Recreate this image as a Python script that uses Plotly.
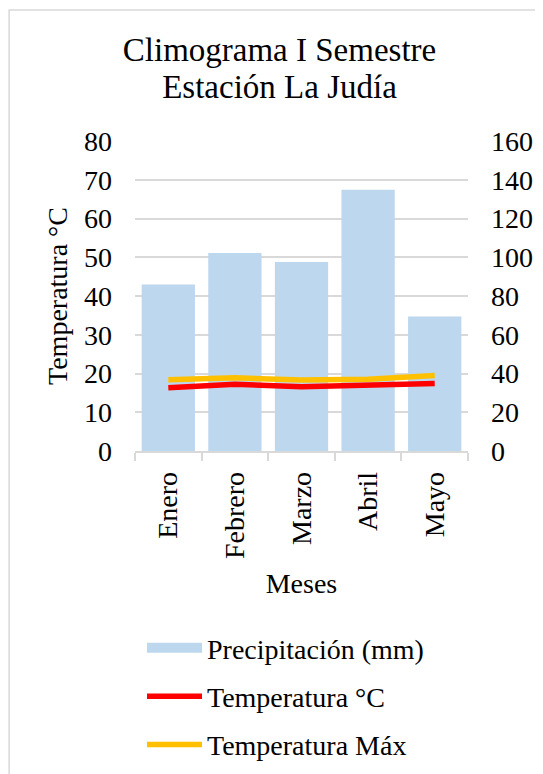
import plotly.graph_objects as go

meses = ["Enero", "Febrero", "Marzo", "Abril", "Mayo"]
precipitacion = [86.0, 102.2, 97.6, 134.8, 69.4]
temperatura = [16.3, 17.2, 16.6, 17.0, 17.4]
temperatura_max = [18.4, 18.9, 18.3, 18.5, 19.5]

FONT = "Liberation Serif"
GRID = "#D9D9D9"

fig = go.Figure()
fig.add_trace(go.Bar(x=meses, y=precipitacion, name="Precipitación (mm)",
                     marker=dict(color="#BDD7EE", line=dict(width=0)),
                     yaxis="y", showlegend=False))
# legend-only entry drawn as a wide band like the reference legend key
fig.add_trace(go.Scatter(x=[None], y=[None], mode="lines", name="Precipitación (mm)",
                         line=dict(color="#BDD7EE", width=15), yaxis="y", legendgroup="a"))
fig.add_trace(go.Scatter(x=meses, y=temperatura, mode="lines", name="Temperatura °C",
                         line=dict(color="#FF0000", width=5.5), yaxis="y2", legendgroup="b"))
fig.add_trace(go.Scatter(x=meses, y=temperatura_max, mode="lines", name="Temperatura Máx",
                         line=dict(color="#FFC000", width=5.5), yaxis="y2", legendgroup="c"))

title_text = ("<span style='font-size:33px'>Climograma I Semestre</span><br>"
              "<span style='font-size:33px'>Estación La Judía</span>")

fig.update_layout(
    width=543, height=774,
    margin=dict(l=127, r=83, t=133, b=331, autoexpand=False),
    paper_bgcolor="white", plot_bgcolor="white",
    font=dict(family=FONT, size=28, color="black"),
    title=dict(text=title_text, x=0.5, xref="container",
               y=0.931, yanchor="top", font=dict(size=28, family=FONT)),
    bargap=0.2,
    xaxis=dict(showgrid=False, showline=True, linecolor=GRID, linewidth=1.5, automargin=False,
               ticks="outside", tickson="boundaries", ticklen=8, tickcolor=GRID, tickwidth=1.5,
               tickangle=-90, ticklabelstandoff=8, tickfont=dict(size=28),
               title=dict(text="Meses", standoff=15, font=dict(size=28))),
    yaxis=dict(side="right", range=[0, 160], dtick=20, showgrid=True, gridcolor=GRID, gridwidth=1.5,
               zeroline=False, ticks="", ticklabelstandoff=22, automargin=False),
    yaxis2=dict(side="left", overlaying="y", range=[0, 80], dtick=10, showgrid=False,
                zeroline=False, ticks="", ticklabelstandoff=22, automargin=False,
                title=dict(text="Temperatura °C", standoff=8, font=dict(size=28))),
    legend=dict(x=0.021, xanchor="left", y=-0.555, yanchor="top", itemwidth=55,
                tracegroupgap=9, font=dict(size=28), bgcolor="rgba(0,0,0,0)"),
    shapes=[dict(type="rect", xref="paper", yref="paper", x0=-0.378, x1=1.5, y0=-1.2, y1=1.4226,
                 line=dict(color="#D9D9D9", width=1.5), fillcolor="rgba(0,0,0,0)", layer="below")],
)

fig.write_html("out.html")
